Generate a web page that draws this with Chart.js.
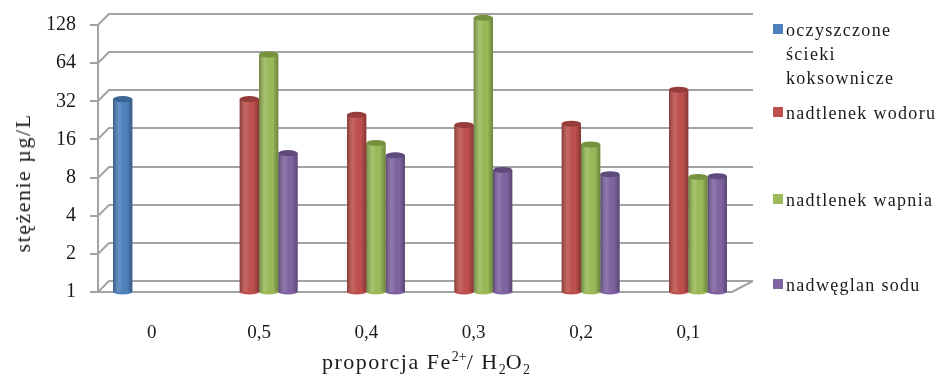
<!DOCTYPE html>
<html>
<head>
<meta charset="utf-8">
<script src="https://cdn.jsdelivr.net/npm/chart.js@4"></script>
<style>
  body { margin: 0; background: #fff; }
  #wrap { position: relative; width: 946px; height: 384px; font-family: "Liberation Serif", "Times New Roman", serif; color: #1a1a1a; }
  canvas { position: absolute; left: 0; top: 0; }
  #ytitle { position: absolute; left: 23px; top: 183px; transform: translate(-50%, -50%) rotate(-90deg); font-size: 22px; letter-spacing: 1.5px; white-space: nowrap; }
  #xtitle { position: absolute; left: 426px; top: 363px; transform: translate(-50%, -50%); font-size: 22px; letter-spacing: 1.5px; white-space: nowrap; }
  #xtitle sup { font-size: 14px; vertical-align: 8px; letter-spacing: 0; }
  #xtitle sub { font-size: 14px; vertical-align: -5px; letter-spacing: 0; }
  #legend { position: absolute; left: 773px; top: 0; font-size: 18px; letter-spacing: 1.3px; }
  .item { position: absolute; left: 0; white-space: nowrap; line-height: 24px; }
  .item span.box { position: absolute; left: 0; top: 6px; width: 10px; height: 10px; }
  .item div { margin-left: 13px; }
</style>
</head>
<body>
<div id="wrap">
  <canvas id="grafico" width="946" height="384"></canvas>
  <div id="ytitle">stężenie µg/L</div>
  <div id="xtitle">proporcja Fe<sup>2+</sup>/ H<sub>2</sub>O<sub>2</sub></div>
  <div id="legend"></div>
</div>
<script>
// dane
const proporcje = ['0', '0,5', '0,4', '0,3', '0,2', '0,1'];
const osTicki = [1, 2, 4, 8, 16, 32, 64, 128];
const scieki = [33.3, null, null, null, null, null];
const nadtlenekWodoru = [null, 33.3, 25, 20.8, 21.3, 39.5];
const nadtlenekWapnia = [null, 75, 15, 146, 14.6, 8.1];
const nadweglanSodu = [null, 12.5, 12, 9.2, 8.5, 8.2];

const nazwy = ['oczyszczone\nścieki\nkoksownicze', 'nadtlenek wodoru', 'nadtlenek wapnia', 'nadwęglan sodu'];
const kolory = ['#4F81BD', '#C0504D', '#9BBB59', '#8064A2'];
const ciemne = ['#3A6595', '#963C3A', '#76923F', '#5F4A7C'];
const legendTop = [18, 101, 188, 273];

// legenda w HTML (wielolinijkowa etykieta)
const legend = document.getElementById('legend');
nazwy.forEach((n, i) => {
    const it = document.createElement('div');
    it.className = 'item';
    it.style.top = legendTop[i] + 'px';
    it.innerHTML = '<span class="box" style="background:' + kolory[i] + '"></span><div>' + n.split('\n').join('<br>') + '</div>';
    legend.appendChild(it);
});

const DX = 11, DY = 11;

// tylna sciana z liniami siatki (efekt 3D)
const sciana = {
    id: 'sciana',
    beforeDatasetsDraw(chart) {
        const ctx = chart.ctx;
        const a = chart.chartArea;
        const y = chart.scales.y;
        ctx.save();
        ctx.strokeStyle = '#a3a3a3';
        ctx.lineWidth = 2;
        osTicki.forEach((t) => {
            const py = Math.round(y.getPixelForValue(t));
            ctx.beginPath();
            ctx.moveTo(a.left - 8, py);
            ctx.lineTo(a.left, py);
            ctx.lineTo(a.left + DX, py - DY);
            ctx.lineTo(a.right + DX, py - DY);
            ctx.stroke();
        });
        ctx.beginPath();
        ctx.moveTo(a.left, y.getPixelForValue(128));
        ctx.lineTo(a.left, a.bottom);
        ctx.lineTo(a.right - 10, a.bottom);
        ctx.lineTo(a.right + DX, a.bottom - DY);
        ctx.stroke();
        ctx.restore();
    },
    afterDatasetsDraw(chart) {
        // cieniowanie walcow
        const ctx = chart.ctx;
        chart.data.datasets.forEach((ds, i) => {
            chart.getDatasetMeta(i).data.forEach((bar, j) => {
                if (ds.data[j] == null) return;
                const w = bar.width, l = bar.x - w / 2, r = bar.x + w / 2;
                const g = ctx.createLinearGradient(l, 0, r, 0);
                g.addColorStop(0, 'rgba(0,0,0,0.30)');
                g.addColorStop(0.35, 'rgba(255,255,255,0.12)');
                g.addColorStop(0.7, 'rgba(0,0,0,0)');
                g.addColorStop(1, 'rgba(0,0,0,0.30)');
                ctx.save();
                ctx.fillStyle = g;
                ctx.fillRect(l, bar.y, w, bar.base - bar.y);
                ctx.beginPath();
                ctx.ellipse(bar.x, bar.y, w / 2, 3, 0, 0, Math.PI * 2);
                ctx.fillStyle = ciemne[i];
                ctx.fill();
                ctx.beginPath();
                ctx.ellipse(bar.x, bar.base, w / 2, 2.5, 0, 0, Math.PI);
                ctx.fillStyle = kolory[i];
                ctx.fill();
                ctx.restore();
            });
        });
    }
};

const serie = [scieki, nadtlenekWodoru, nadtlenekWapnia, nadweglanSodu];

const getGrafic = document.getElementById('grafico').getContext('2d');
const myChart = new Chart(getGrafic, {
    type: 'bar',
    data: {
        labels: proporcje,
        datasets: serie.map((d, i) => ({
            label: nazwy[i].replace(/\n/g, ' '),
            data: d,
            backgroundColor: kolory[i],
            borderWidth: 0,
            clip: false
        }))
    },
    options: {
        responsive: false,
        animation: false,
        layout: { padding: { left: 0, right: 204, top: 25, bottom: 22 } },
        datasets: { bar: { categoryPercentage: 0.72, barPercentage: 1 } },
        plugins: {
            legend: { display: false },
            tooltip: { enabled: false }
        },
        scales: {
            x: {
                grid: { display: false },
                border: { display: false },
                ticks: { color: '#1a1a1a', padding: 22, font: { family: 'Liberation Serif', size: 19 } },
                afterFit: (s) => { s.height = 70; }
            },
            y: {
                type: 'logarithmic',
                min: 1,
                max: 128,
                // niewidoczne kreski tylko po to, by odsunac etykiety od osi
                grid: { display: true, drawOnChartArea: false, tickLength: 18, color: 'rgba(0,0,0,0)' },
                border: { display: false },
                afterBuildTicks: (s) => { s.ticks = osTicki.map((v) => ({ value: v })); },
                ticks: {
                    color: '#1a1a1a',
                    padding: 4,
                    font: { family: 'Liberation Serif', size: 20 },
                    callback: (v) => String(v)
                },
                afterFit: (s) => { s.width = 98; }
            }
        }
    },
    plugins: [sciana]
});
</script>
</body>
</html>
